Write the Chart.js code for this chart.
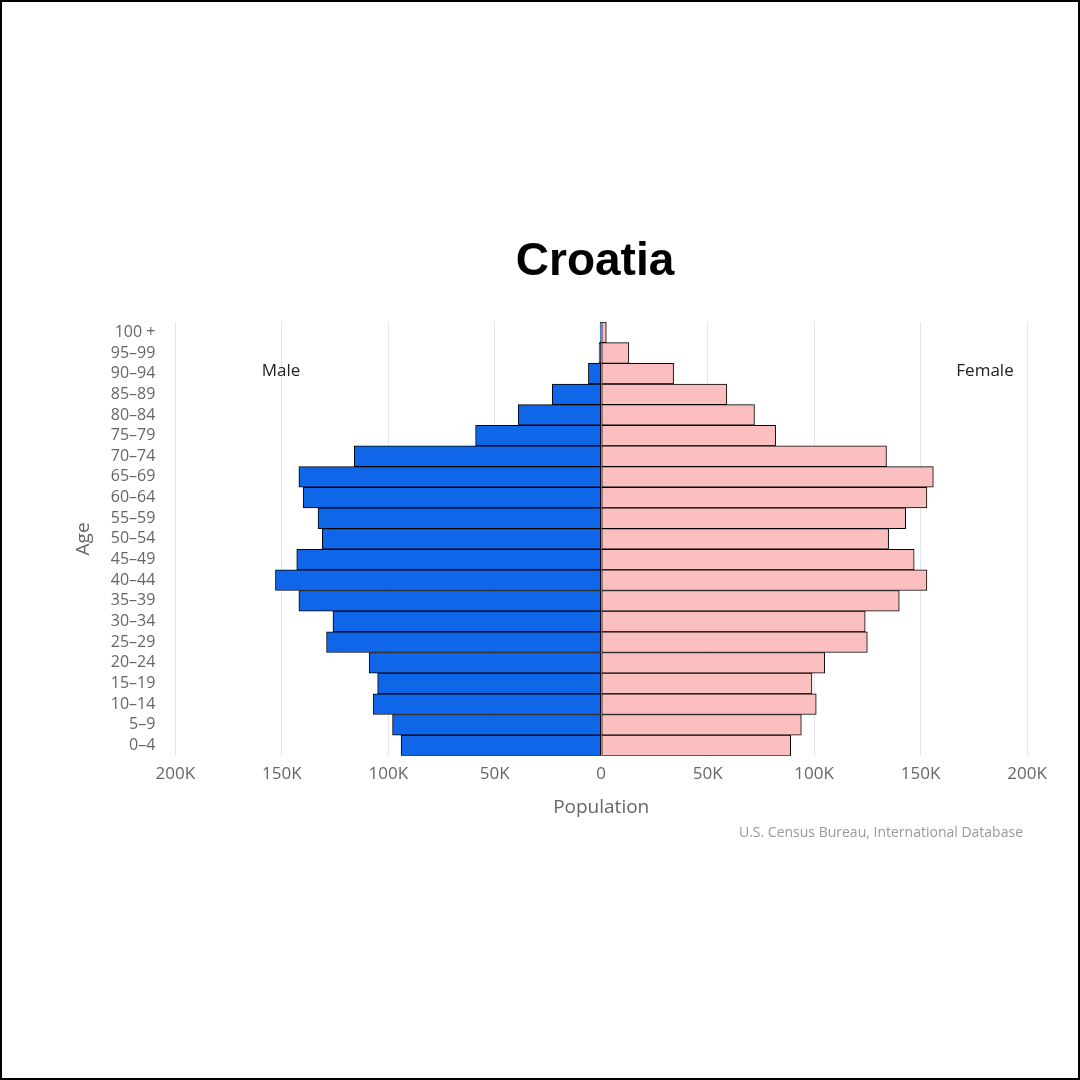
<!DOCTYPE html>
<html><head><meta charset="utf-8">
<script src="https://cdn.jsdelivr.net/npm/chart.js@4"></script>
<style>html,body{margin:0;padding:0;background:#fff}
#w{position:absolute;left:0;top:0;width:1076px;height:1076px;border:2px solid #000;}
canvas{display:block}</style></head><body>
<div id="w"><canvas id="c" width="1076" height="1076"></canvas></div>
<script>
const ages=["100 +","95-99","90-94","85-89","80-84","75-79","70-74","65-69","60-64","55-59","50-54","45-49","40-44","35-39","30-34","25-29","20-24","15-19","10-14","5-9","0-4"].map(s=>s.replace('-','\u2013'));
const male=[0.5,1,6,23,39,59,116,142,140,133,131,143,153,142,126,129,109,105,107,98,94];
const female=[2.4,13,34,59,72,82,134,156,153,143,135,147,153,140,124,125,105,99,101,94,89];
const xTicks=[-200,-150,-100,-50,0,50,100,150,200];
const F="'Open Sans', sans-serif";
const txt={id:'txt',afterDraw(ch){const c=ch.ctx;c.save();
c.fillStyle='#000';c.font="bold 46px "+F.replace("'Open Sans'","'Liberation Sans', Arial");c.textAlign='center';c.textBaseline='middle';
c.fillText('Croatia',593,260);
c.font="17px "+F;c.fillStyle='#222';c.fillText('Male',279,369);c.fillText('Female',983,369);
c.font="14px "+F;c.fillStyle='#999';c.textAlign='right';c.fillText('U.S. Census Bureau, International Database',1021,831);
c.restore();}};
new Chart(document.getElementById('c'),{type:'bar',
data:{labels:ages,datasets:[
{label:'Male',data:male.map(v=>-v*1000),backgroundColor:'#0f66e8',borderColor:'#000',borderWidth:1,borderSkipped:false},
{label:'Female',data:female.map(v=>v*1000),backgroundColor:'#fbbfbf',borderColor:'#000',borderWidth:1,borderSkipped:false}]},
options:{indexAxis:'y',responsive:false,animation:false,devicePixelRatio:1,
layout:{padding:{left:66,right:51,top:320,bottom:255}},
plugins:{legend:{display:false},tooltip:{enabled:false}},
datasets:{bar:{barPercentage:1,categoryPercentage:1}},
scales:{
x:{stacked:true,min:-200000,max:200000,afterBuildTicks(a){a.ticks=xTicks.map(v=>({value:v*1000}));},
ticks:{color:'#666',font:{family:F,size:17},callback:v=>v===0?'0':Math.abs(v/1000)+'K',padding:8},
grid:{color:'#e3e6ea',drawTicks:false},border:{display:false},
title:{display:true,text:'Population',color:'#666',font:{family:F,size:19}}},
y:{stacked:true,ticks:{color:'#666',font:{family:F,size:16},padding:12,autoSkip:false},
grid:{display:false},border:{display:false},
title:{display:true,text:'Age',color:'#666',font:{family:F,size:19}}}}},
plugins:[txt]});
</script></body></html>
